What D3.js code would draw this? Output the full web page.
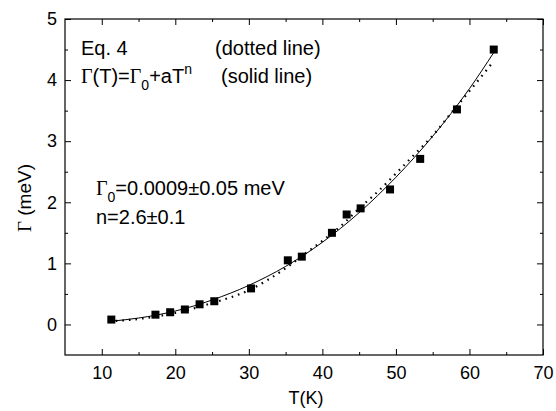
<!DOCTYPE html>
<html>
<head>
<meta charset="utf-8">
<script src="https://cdn.jsdelivr.net/npm/d3@7"></script>
<style>
  html, body { margin: 0; padding: 0; background: #fff; }
  svg { display: block; }
  text { font-family: "Liberation Sans", Arial, sans-serif; fill: #000; }
  .serif { font-family: "Liberation Serif", "Times New Roman", serif; }
</style>
</head>
<body>
<svg id="chart" width="556" height="411"></svg>
<script>
// ---- data ----
const temps = [11.3, 17.3, 19.3, 21.3, 23.3, 25.3, 30.3, 35.3, 37.2, 41.3, 43.3, 45.2, 49.2, 53.3, 58.3, 63.3];
const gammas = [0.08, 0.16, 0.20, 0.245, 0.33, 0.38, 0.59, 1.05, 1.11, 1.50, 1.80, 1.90, 2.21, 2.71, 3.52, 4.50];

// solid line: power-law fit
const solidT = [11, 15, 20, 25, 30, 35, 40, 45, 50, 55, 60, 63.3];
const solidG = [0.05, 0.105, 0.22, 0.40, 0.64, 0.95, 1.345, 1.83, 2.41, 3.08, 3.86, 4.45];

// dotted line: Eq. 4
const dottedT = [11, 15, 20, 25, 30, 35, 38, 40, 42.5, 45, 47.5, 50, 52.5, 55, 57.5, 60, 63.3];
const dottedG = [0.05, 0.09, 0.19, 0.35, 0.56, 0.92, 1.19, 1.37, 1.61, 1.90, 2.17, 2.47, 2.78, 3.09, 3.46, 3.82, 4.31];

const xMajor = [10, 20, 30, 40, 50, 60, 70];
const xMinor = [15, 25, 35, 45, 55, 65];
const yMajor = [0, 1, 2, 3, 4, 5];
const yMinor = [0.5, 1.5, 2.5, 3.5, 4.5];

// ---- layout ----
const svg = d3.select("#chart");
const L = 65, R = 543, T = 19, B = 355;
const x = d3.scaleLinear().domain([5, 70]).range([L, R]);
const y = d3.scaleLinear().domain([-0.5, 5]).range([B, T]);
const FS = 18;     // tick labels / titles
const FA = 20;     // annotations
const FSUB = 14;

function axisG(axis, tx, ty, labels) {
  const g = svg.append("g").attr("transform", `translate(${tx},${ty})`).call(axis);
  g.select(".domain").remove();
  g.selectAll("line").attr("stroke", "#000").attr("stroke-width", 1);
  g.selectAll("text").attr("font-size", FS).attr("font-family", "Liberation Sans, Arial, sans-serif").attr("fill", "#000");
  if (!labels) g.selectAll("text").remove();
  return g;
}

// bottom
axisG(d3.axisBottom(x).tickValues(xMajor).tickFormat(d3.format("d")).tickSizeInner(-6).tickSizeOuter(0).tickPadding(11), 0, B, true);
axisG(d3.axisBottom(x).tickValues(xMinor).tickFormat("").tickSizeInner(-3).tickSizeOuter(0), 0, B, false);
// top
axisG(d3.axisTop(x).tickValues(xMajor).tickSizeInner(-6).tickSizeOuter(0), 0, T, false);
axisG(d3.axisTop(x).tickValues(xMinor).tickSizeInner(-3).tickSizeOuter(0), 0, T, false);
// left
axisG(d3.axisLeft(y).tickValues(yMajor).tickFormat(d3.format("d")).tickSizeInner(-6).tickSizeOuter(0).tickPadding(8), L, 0, true);
axisG(d3.axisLeft(y).tickValues(yMinor).tickFormat("").tickSizeInner(-3).tickSizeOuter(0), L, 0, false);
// right
axisG(d3.axisRight(y).tickValues(yMajor).tickSizeInner(-6).tickSizeOuter(0), R, 0, false);
axisG(d3.axisRight(y).tickValues(yMinor).tickSizeInner(-3).tickSizeOuter(0), R, 0, false);

// frame
svg.append("rect").attr("x", L).attr("y", T).attr("width", R - L).attr("height", B - T)
  .attr("fill", "none").attr("stroke", "#000").attr("stroke-width", 1.2);

// lines
const solid = solidT.map((t, i) => [t, solidG[i]]);
const dotted = dottedT.map((t, i) => [t, dottedG[i]]);
const line = d3.line().x(d => x(d[0])).y(d => y(d[1])).curve(d3.curveMonotoneX);

svg.append("path").attr("d", line(dotted)).attr("fill", "none").attr("stroke", "#000")
  .attr("stroke-width", 2.2).attr("stroke-dasharray", "1.6,5");
svg.append("path").attr("d", line(solid)).attr("fill", "none").attr("stroke", "#000")
  .attr("stroke-width", 1);

// markers
const S = 8;
svg.append("g").selectAll("rect").data(temps.map((t, i) => [t, gammas[i]])).join("rect")
  .attr("x", d => x(d[0]) - S / 2).attr("y", d => y(d[1]) - S / 2)
  .attr("width", S).attr("height", S).attr("fill", "#000");

// axis titles
svg.append("text").attr("x", 306).attr("y", 404).attr("text-anchor", "middle")
  .attr("font-size", FS).text("T(K)");
const yl = svg.append("text").attr("transform", "translate(31,198) rotate(-90)")
  .attr("text-anchor", "middle").attr("font-size", 19);
yl.append("tspan").attr("class", "serif").text("Γ");
yl.append("tspan").text(" (meV)");

// annotations
svg.append("text").attr("x", 81).attr("y", 55).attr("font-size", FA).text("Eq. 4");
svg.append("text").attr("x", 215).attr("y", 55).attr("font-size", FA).text("(dotted line)");

const t2 = svg.append("text").attr("x", 81).attr("y", 83).attr("font-size", FA);
t2.append("tspan").attr("class", "serif").text("Γ");
t2.append("tspan").text("(T)=");
t2.append("tspan").attr("class", "serif").text("Γ");
t2.append("tspan").attr("dy", 7).attr("font-size", FSUB).text("0");
t2.append("tspan").attr("dy", -7).text("+aT");
t2.append("tspan").attr("dy", -9).attr("font-size", FSUB).text("n");
svg.append("text").attr("x", 221).attr("y", 83).attr("font-size", FA).text("(solid line)");

const t3 = svg.append("text").attr("x", 96).attr("y", 195).attr("font-size", FA);
t3.append("tspan").attr("class", "serif").text("Γ");
t3.append("tspan").attr("dy", 7).attr("font-size", FSUB).text("0");
t3.append("tspan").attr("dy", -7).text("=0.0009±0.05 meV");
svg.append("text").attr("x", 96).attr("y", 224).attr("font-size", FA).text("n=2.6±0.1");
</script>
</body>
</html>
